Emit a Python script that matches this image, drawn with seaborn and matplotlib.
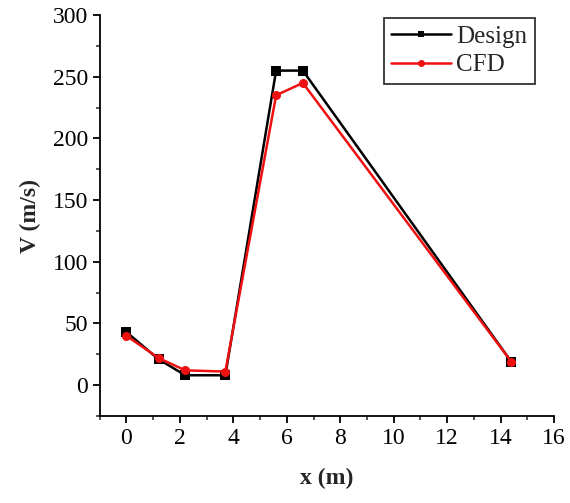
import numpy as np
import pandas as pd
import matplotlib
matplotlib.use("Agg")
import matplotlib.pyplot as plt
from matplotlib.ticker import MultipleLocator
import seaborn as sns

# ── data ────────────────────────────────────────────────────────────────────
x_pos    = [0.0, 1.2, 2.2, 3.7, 5.6, 6.6, 14.4]
v_design = [43, 21, 8, 8, 255, 255, 19]
v_cfd    = [40, 22, 12, 11, 235, 245, 19]

# ── stil ────────────────────────────────────────────────────────────────────
sns.set_theme(style="ticks")
plt.rcParams.update({
    "font.family":       ["Liberation Serif", "DejaVu Serif"],
    "axes.linewidth":    1.3,
    "xtick.major.width": 1.3,
    "ytick.major.width": 1.3,
    "xtick.minor.width": 1.1,
    "ytick.minor.width": 1.1,
    "xtick.major.size":  5,
    "ytick.major.size":  5,
    "xtick.minor.size":  3,
    "ytick.minor.size":  3,
    "xtick.direction":   "out",
    "ytick.direction":   "out",
})

df = pd.DataFrame({
    "x": x_pos * 2,
    "V": v_design + v_cfd,
    "series": ["Design"] * len(x_pos) + ["CFD"] * len(x_pos),
})

fig = plt.figure(figsize=(5.7, 5.03), dpi=100)
ax = fig.add_axes([0.175, 0.173, 0.797, 0.797])

sns.lineplot(
    data=df, x="x", y="V", hue="series", style="series",
    palette={"Design": "black", "CFD": "#ee1111"},
    markers={"Design": "s", "CFD": "o"}, dashes=False,
    markersize=6.5, markeredgewidth=0, linewidth=1.8,
    ax=ax,
)

ax.set_xlim(-1, 16)
ax.set_ylim(-25, 300)
ax.xaxis.set_major_locator(MultipleLocator(2))
ax.xaxis.set_minor_locator(MultipleLocator(1))
ax.yaxis.set_major_locator(MultipleLocator(50))
ax.yaxis.set_minor_locator(MultipleLocator(25))
ax.tick_params(labelsize=17, colors="black")

for s in ("top", "right"):
    ax.spines[s].set_visible(False)
for s in ("left", "bottom"):
    ax.spines[s].set_color("black")

ax.set_xlabel("x (m)", fontsize=17, fontweight="bold", labelpad=14)
ax.set_ylabel("V (m/s)", fontsize=17, fontweight="bold", labelpad=8)

leg = ax.legend(loc="upper right", bbox_to_anchor=(0.985, 1.025), fontsize=18,
                frameon=True, fancybox=False, edgecolor="black",
                handlelength=2.4, handletextpad=0.2, borderpad=0.3,
                labelspacing=0.25, title=None)
leg.get_frame().set_linewidth(1.3)
for h in leg.legend_handles:
    h.set_markersize(5)

fig.savefig("out.png", dpi=100)
